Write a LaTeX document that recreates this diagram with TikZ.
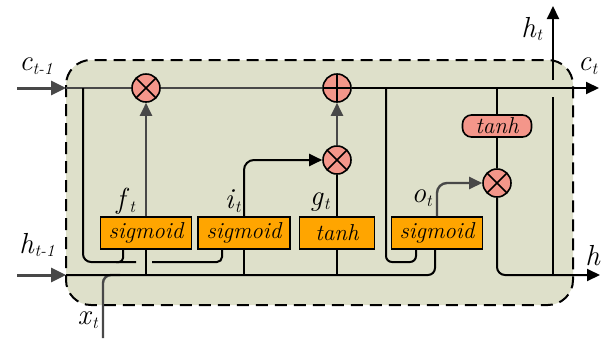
\documentclass[tikz,border=0pt]{standalone}
\usetikzlibrary{arrows.meta,shapes.misc}
\definecolor{bgc}{RGB}{222,224,202}
\definecolor{pinkc}{RGB}{244,150,138}
\definecolor{orangec}{RGB}{255,165,0}
\definecolor{darkg}{RGB}{72,72,72}
\newcommand\lbl[2]{\textit{#1}\raisebox{-0.3ex}{\fontsize{17}{19}\selectfont\textit{#2}}}
\begin{document}
\begin{tikzpicture}[x=1pt,y=-1pt,line width=2pt,
  op/.style={circle,draw=black,fill=pinkc,minimum size=28pt,inner sep=0pt,line width=1.6pt},
  mul/.style={op,path picture={\draw[line width=1.6pt] (path picture bounding box.center) ++(45:16pt) -- ++(225:32pt)
      (path picture bounding box.center) ++(135:16pt) -- ++(-45:32pt);}},
  addop/.style={op,path picture={\draw[line width=1.6pt] (path picture bounding box.center) ++(0,16pt) -- ++(0,-32pt)
      (path picture bounding box.center) ++(16pt,0) -- ++(-32pt,0);}},
  gatebox/.style={draw=black,fill=orangec,minimum height=32pt,inner sep=0pt,line width=1.6pt,
      font=\fontsize{23}{25}\selectfont\itshape},
  pill/.style={draw=black,fill=pinkc,rounded corners=9pt,minimum width=69pt,minimum height=22pt,inner sep=0pt,
      line width=1.6pt,font=\fontsize{23}{25}\selectfont\itshape},
  lab/.style={font=\fontsize{29}{32}\selectfont,inner sep=0pt},
  tip/.style={-{Triangle[length=13pt,width=12pt]}},
  bigtip/.style={-{Triangle[length=15pt,width=14pt]},line width=3pt,draw=darkg},
  grayline/.style={draw=darkg,line width=2.4pt}]
\useasboundingbox (0,0) rectangle (602,338);
% background
\draw[dash pattern=on 12pt off 7pt,fill=bgc,rounded corners=25pt] (66,60) rectangle (573,305);
% coordinates
\coordinate (cin) at (17,88);
\coordinate (cL) at (66,88);
\coordinate (cout) at (599,88);
\coordinate (hin) at (17,275);
\coordinate (hL) at (66,275);
\coordinate (hout) at (600,275);
\coordinate (xin) at (103,338);
\coordinate (xJ) at (120,275);
\coordinate (hO) at (435,249);
\coordinate (tcTop) at (497,88);
\coordinate (vBot) at (553,275);
\coordinate (vGapLo) at (553,97);
\coordinate (vGapHi) at (553,80);
\coordinate (vTop) at (553,6);
\coordinate (pL) at (83,88);
\coordinate (pL2) at (136,262);
\coordinate (pM) at (152,262);
\coordinate (pI) at (222,249);
\coordinate (pF) at (123,249);
\coordinate (pF2) at (116,262);
\coordinate (pR) at (386,88);
\coordinate (pR2) at (416,262);
\coordinate (pO) at (416,249);
% nodes
\node[mul] (mf) at (146,88) {};
\node[addop] (add) at (337,88) {};
\node[mul] (mi) at (337,160) {};
\node[mul] (mo) at (497,183) {};
\node[pill] (tc) at (497,126) {tanh};
\node[gatebox,minimum width=91pt] (sf) at (146,233) {sigmoid};
\node[gatebox,minimum width=92pt] (si) at (244,233) {sigmoid};
\node[gatebox,minimum width=75pt] (tg) at (337,233) {tanh};
\node[gatebox,minimum width=91pt] (so) at (437,233) {sigmoid};
% inputs
\draw[bigtip] (cin) -- (cL);
\draw[bigtip] (hin) -- (hL);
\draw[grayline,rounded corners=8pt] (xin) |- (xJ);
% cell line
\draw[grayline] (cL) -- (mf);
\draw[grayline] (mf) -- (add);
\draw[tip] (add) -- (cout);
% hidden line
\draw[rounded corners=7pt] (hL) -| (hO);
\draw (sf.south) -- (sf.south |- hL);
\draw (si.south) -- (si.south |- hL);
\draw (tg.south) -- (tg.south |- hL);
% peepholes
\draw[rounded corners=8pt] (pL) |- (pL2);
\draw[rounded corners=5pt] (pM) -| (pI);
\draw[rounded corners=4pt] (pF) |- (pF2);
\draw[rounded corners=6pt] (pR) |- (pR2) -- (pO);
% gate outputs
\draw[tip,grayline] (sf.north) -- (mf.south);
\draw[tip,rounded corners=10pt] (si.north) |- (mi.west);
\draw (tg.north) -- (mi.south);
\draw[tip,grayline] (mi.north) -- (add.south);
\draw[tip,grayline,rounded corners=10pt] (so.north) |- (mo.west);
% output part
\draw (tcTop) -- (tc.north);
\draw (tc.south) -- (mo.north);
\draw[tip,rounded corners=8pt] (mo.south) |- (hout);
\draw (vBot) -- (vGapLo);
\draw[tip] (vGapHi) -- (vTop);
% labels
\node[lab] (lc0) at (36,66) {\lbl{c}{t-1}};
\node[lab] (lc1) at (588,66) {\lbl{c}{t}};
\node[lab] (lh0) at (37,245) {\lbl{h}{t-1}};
\node[lab] (lht) at (532,29) {\lbl{h}{t}};
\node[lab] (lh1) at (593,256) {\textit{h}};
\node[lab] (lx) at (88,320) {\lbl{x}{t}};
\node[lab] (lf) at (126,201) {\lbl{f}{t}};
\node[lab] (li) at (233,201) {\lbl{i}{t}};
\node[lab] (lg) at (320,202) {\lbl{g}{t}};
\node[lab] (lo) at (422,198) {\lbl{o}{t}};
\end{tikzpicture}
\end{document}
